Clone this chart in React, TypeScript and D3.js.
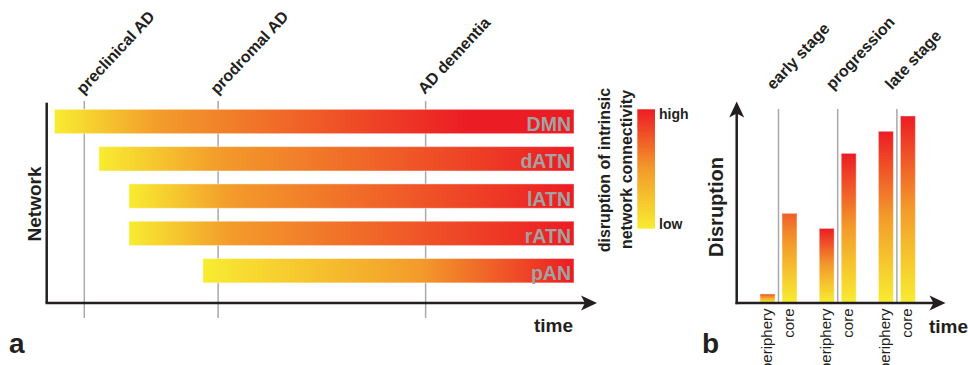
import React from 'react'
import * as d3 from 'd3'

// panel a: network disruption over time
const networks = ['DMN', 'dATN', 'lATN', 'rATN', 'pAN']
const onset = [1.6, 10, 15.7, 15.7, 29.7]
const orangeAt = [21.6, 33, 35, 35, 70.8]
const redAt = [80, 100, 100, 100, 100]
const stagesA = ['preclinical AD', 'prodromal AD', 'AD dementia']
const stageTimes = [7.25, 32.6, 71.9]

// panel b: periphery vs core disruption by stage
const stagesB = ['early stage', 'progression', 'late stage']
const regions = ['periphery', 'core']
const peripheryValues = [4.4, 38.3, 88.5]
const coreValues = [46.1, 77.1, 96.4]
const peripheryTop = [0.82, 1, 1]
const coreTop = [0.74, 1, 1]

const YELLOW = '#f8ec31'
const ORANGE = '#f39b2b'
const RED = '#ec1c24'
const INK = '#231f20'
const GRID = '#a7a9ac'
const FONT = '"Liberation Sans", Arial, sans-serif'

const heat = d3.scaleLinear<string>().domain([0, 0.5, 1]).range([YELLOW, ORANGE, RED])

export default function App() {
  // panel a scales
  const x = d3.scaleLinear().domain([0, 100]).range([46, 574])
  const y = d3.scaleBand().domain(networks).range([109.3, 282.9]).paddingInner(0.346).paddingOuter(0)
  const axisY = 303

  // panel b scales
  const xb = d3.scaleBand().domain(stagesB).range([748.9, 926.5])
  const xr = d3.scaleBand().domain(regions).range([-18.5, 18.5]).paddingInner(0.318).paddingOuter(0)
  const yb = d3.scaleLinear().domain([0, 100]).range([302.5, 109])
  const legendY = d3.scaleLinear().domain([0, 1]).range([228.7, 109.3])

  const barsB = stagesB.flatMap((s, i) => [
    { stage: s, region: 'periphery', value: peripheryValues[i], top: peripheryTop[i], id: `gb-p-${i}` },
    { stage: s, region: 'core', value: coreValues[i], top: coreTop[i], id: `gb-c-${i}` },
  ])

  const arrowRight = (tx: number, ty: number) =>
    `M${tx},${ty} L${tx - 16},${ty - 7.5} L${tx - 12},${ty} L${tx - 16},${ty + 7.5} Z`
  const arrowUp = (tx: number, ty: number) =>
    `M${tx},${ty} L${tx - 7.5},${ty + 16} L${tx},${ty + 12} L${tx + 7.5},${ty + 16} Z`

  return (
    <svg width={968} height={365} style={{ position: 'absolute', left: 0, top: 0, display: 'block' }}
      fontFamily={FONT}>
      <defs>
        {networks.map((n, i) => (
          <linearGradient key={n} id={`ga-${i}`} gradientUnits="userSpaceOnUse"
            x1={x(onset[i])} x2={x(redAt[i])} y1={0} y2={0}>
            <stop offset={0} stopColor={YELLOW} />
            <stop offset={(orangeAt[i] - onset[i]) / (redAt[i] - onset[i])} stopColor={ORANGE} />
            <stop offset={1} stopColor={RED} />
          </linearGradient>
        ))}
        {barsB.map(b => (
          <linearGradient key={b.id} id={b.id} x1={0} y1={1} x2={0} y2={0}>
            {d3.range(0, 1.01, 0.25).map(k => (
              <stop key={k} offset={k} stopColor={heat(k * b.top)} />
            ))}
          </linearGradient>
        ))}
        <linearGradient id="legend" x1={0} y1={1} x2={0} y2={0}>
          <stop offset={0} stopColor={YELLOW} />
          <stop offset={0.5} stopColor={ORANGE} />
          <stop offset={1} stopColor={RED} />
        </linearGradient>
      </defs>

      {/* ---- panel a ---- */}
      {stageTimes.map((t, i) => (
        <g key={stagesA[i]}>
          <line x1={x(t)} x2={x(t)} y1={101} y2={318} stroke={GRID} strokeWidth={1.5} />
          <text transform={`translate(${x(t) - 1},95) rotate(-47)`} fontSize={16} fontWeight="bold" fill={INK}>
            {stagesA[i]}
          </text>
        </g>
      ))}
      {networks.map((n, i) => (
        <g key={n}>
          <rect x={x(onset[i])} y={y(n)} width={x(100) - x(onset[i])} height={y.bandwidth()}
            fill={`url(#ga-${i})`} stroke="#fff" strokeOpacity={0.45} strokeWidth={1} />
          <text x={x(100) - 3} y={(y(n) as number) + y.bandwidth() - 2.5} textAnchor="end"
            fontSize={19.5} fontWeight="bold" fill="#a2a2a2">{n}</text>
        </g>
      ))}
      <line x1={46.7} x2={46.7} y1={102.7} y2={axisY} stroke={INK} strokeWidth={2.5} />
      <line x1={45.5} x2={588} y1={axisY} y2={axisY} stroke={INK} strokeWidth={2.5} />
      <path d={arrowRight(597, axisY)} fill={INK} />
      <text transform="translate(40.5,204) rotate(-90)" textAnchor="middle" fontSize={19} fontWeight="bold" fill={INK}>Network</text>
      <text x={573} y={331.5} textAnchor="end" fontSize={19} fontWeight="bold" fill={INK}>time</text>
      <text x={9} y={352.5} fontSize={28} fontWeight="bold" fill={INK}>a</text>

      {/* ---- legend ---- */}
      <text transform="translate(610,170) rotate(-90)" textAnchor="middle" fontSize={16} fontWeight="bold" fill={INK}>disruption of intrinsic</text>
      <text transform="translate(631.5,169.5) rotate(-90)" textAnchor="middle" fontSize={16} fontWeight="bold" fill={INK}>network connectivity</text>
      <rect x={637.3} y={legendY(1)} width={17.7} height={legendY(0) - legendY(1)} fill="url(#legend)" />
      <text x={659} y={legendY(1) + 10} fontSize={14} fontWeight="bold" fill={INK}>high</text>
      <text x={659} y={legendY(0)} fontSize={14} fontWeight="bold" fill={INK}>low</text>

      {/* ---- panel b ---- */}
      {stagesB.map(s => {
        const cx = (xb(s) as number) + xb.bandwidth() / 2
        return (
          <g key={s}>
            <line x1={cx} x2={cx} y1={109} y2={302.5} stroke={GRID} strokeWidth={1.5} />
            <text transform={`translate(${cx - 5},90.5) rotate(-47)`} fontSize={16} fontWeight="bold" fill={INK}>{s}</text>
          </g>
        )
      })}
      {barsB.map(b => {
        const cx = (xb(b.stage) as number) + xb.bandwidth() / 2
        const bx = cx + (xr(b.region) as number)
        return (
          <g key={b.id}>
            <rect x={bx} y={yb(b.value)} width={xr.bandwidth()} height={yb(0) - yb(b.value)}
              fill={`url(#${b.id})`} stroke="#fff" strokeOpacity={0.45} strokeWidth={1} />
            <text transform={`translate(${bx + xr.bandwidth() / 2 + 4.5},308.5) rotate(-90)`} textAnchor="end"
              fontSize={15} fill={INK}>{b.region}</text>
          </g>
        )
      })}
      <line x1={736.7} x2={736.7} y1={112} y2={304.2} stroke={INK} strokeWidth={2.5} />
      <line x1={735.5} x2={936} y1={303} y2={303} stroke={INK} strokeWidth={2.5} />
      <path d={arrowUp(736.7, 101.5)} fill={INK} />
      <path d={arrowRight(945.5, 303)} fill={INK} />
      <text transform="translate(722.5,207) rotate(-90)" textAnchor="middle" fontSize={20} fontWeight="bold" fill={INK}>Disruption</text>
      <text x={929} y={333} fontSize={19} fontWeight="bold" fill={INK}>time</text>
      <text x={702} y={352.5} fontSize={28} fontWeight="bold" fill={INK}>b</text>
    </svg>
  )
}
